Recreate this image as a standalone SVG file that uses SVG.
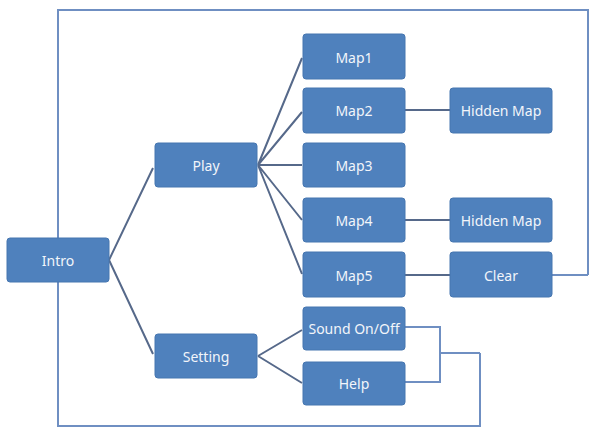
<svg xmlns="http://www.w3.org/2000/svg" width="590" height="428" viewBox="0 0 590 428">
<style>
.box{fill:#4f81bd;stroke:#4676b0;stroke-width:1}
.lbl{font-family:"Noto Sans","Open Sans",sans-serif;font-size:14px;fill:#f2f5fa;text-anchor:middle;dominant-baseline:central}
.ln{fill:none;stroke:#56698a;stroke-width:2}
.fr{fill:none;stroke:#6f8fc2;stroke-width:2}
</style>
<rect width="590" height="428" fill="#ffffff"/>
<g id="connectors">
<path class="fr" d="M588 275 V10 H58 V426 H480 V353"/>
<path class="fr" d="M552 275 H588"/>
<path class="fr" d="M405 327 H440 V382 H405 M440 353 H480"/>
<path class="ln" d="M109 260 L153 168 M109 260 L153 354"/>
<path class="ln" d="M258 165 L302 58 M258 165 L302 112 M258 165 L302 165 M258 165 L302 220 M258 165 L302 274"/>
<path class="ln" d="M258 356 L302 330 M258 356 L302 383"/>
<path class="ln" d="M405 110 H450 M405 220 H450 M405 275 H450"/>
</g>
<g id="intro"><rect class="box" x="7" y="238" width="102" height="44" rx="3"/><text class="lbl" x="58" y="260">Intro</text></g>
<g id="play"><rect class="box" x="155" y="143" width="102" height="44" rx="3"/><text class="lbl" x="206" y="165">Play</text></g>
<g id="setting"><rect class="box" x="155" y="334" width="102" height="44" rx="3"/><text class="lbl" x="206" y="356">Setting</text></g>
<g id="map1"><rect class="box" x="303" y="34" width="102" height="45" rx="3"/><text class="lbl" x="354" y="57">Map1</text></g>
<g id="map2"><rect class="box" x="303" y="88" width="102" height="45" rx="3"/><text class="lbl" x="354" y="110">Map2</text></g>
<g id="map3"><rect class="box" x="303" y="143" width="102" height="44" rx="3"/><text class="lbl" x="354" y="165">Map3</text></g>
<g id="map4"><rect class="box" x="303" y="198" width="102" height="44" rx="3"/><text class="lbl" x="354" y="220">Map4</text></g>
<g id="map5"><rect class="box" x="303" y="252" width="102" height="45" rx="3"/><text class="lbl" x="354" y="275">Map5</text></g>
<g id="sound"><rect class="box" x="303" y="307" width="102" height="43" rx="3"/><text class="lbl" x="354" y="328">Sound On/Off</text></g>
<g id="help"><rect class="box" x="303" y="362" width="102" height="43" rx="3"/><text class="lbl" x="354" y="383">Help</text></g>
<g id="hidden1"><rect class="box" x="450" y="88" width="102" height="45" rx="3"/><text class="lbl" x="501" y="110">Hidden Map</text></g>
<g id="hidden2"><rect class="box" x="450" y="198" width="102" height="44" rx="3"/><text class="lbl" x="501" y="220">Hidden Map</text></g>
<g id="clear"><rect class="box" x="450" y="252" width="102" height="45" rx="3"/><text class="lbl" x="501" y="275">Clear</text></g>
</svg>
